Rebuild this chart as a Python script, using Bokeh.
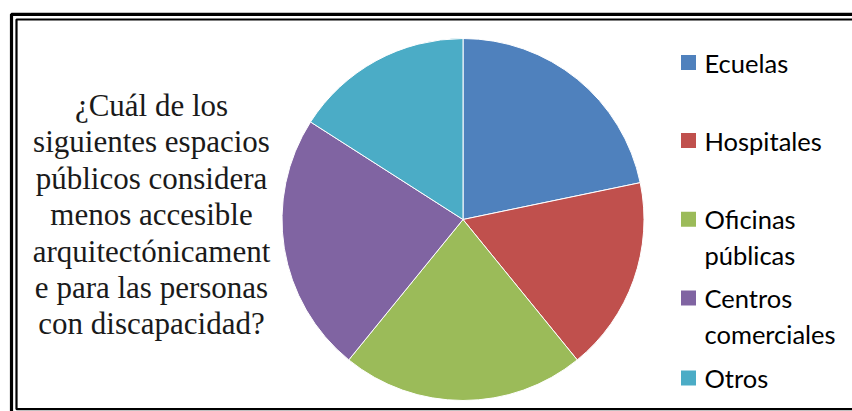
import numpy as np
from bokeh.plotting import figure
from bokeh.models import Range1d, ColumnDataSource
from bokeh.core.properties import value
from bokeh.embed import file_html
from bokeh.resources import INLINE

# ---- data ----
categories = ["Ecuelas", "Hospitales", "Oficinas\npúblicas", "Centros\ncomerciales", "Otros"]
counts = [15, 12, 15, 16, 11]
colors = ["#4F81BD", "#C0504D", "#9BBB59", "#8064A2", "#4BACC6"]
question_lines = ["¿Cuál de los", "siguientes espacios", "públicos considera",
                  "menos accesible", "arquitectónicament", "e para las personas",
                  "con discapacidad?"]

W, H = 852, 411
p = figure(width=W, height=H, output_backend="svg", toolbar_location=None,
           x_range=Range1d(0, W), y_range=Range1d(0, H), min_border=0,
           background_fill_color="white", border_fill_color="white")
p.axis.visible = False
p.grid.visible = False
p.outline_line_color = None

# ---- frame (double border) ----
p.line([11, 11, 870], [-10, H - 13.8, H - 13.8], line_color="black", line_width=3.2)
p.line([870, 16, 16, 870], [H - 19, H - 19, H - 408.7, H - 408.7], line_color="black", line_width=2.2)

# ---- pie ----
vals = np.array(counts, dtype=float)
frac = vals / vals.sum()
cum = np.concatenate([[0], np.cumsum(frac)])
start = np.pi / 2 - cum[:-1] * 2 * np.pi
end = np.pi / 2 - cum[1:] * 2 * np.pi
src = ColumnDataSource(dict(start=start, end=end, color=colors))
cx, cy, r = 462.5, H - 219, 181
p.wedge(x=cx, y=cy, radius=r, start_angle="start", end_angle="end",
        direction="clock", fill_color="color", line_color="white", line_width=1,
        source=src)

# ---- question text ----
qx = 151
base0 = 105
step = 36.4
for i, line in enumerate(question_lines):
    p.text(x=[qx], y=[H - (base0 + i * step)], text=[line],
           text_font=value("Liberation Serif"), text_font_size="31px",
           text_align="center", text_baseline="alphabetic", text_color="#1a1a1a")

# ---- legend ----
sq_x = 688
tx = 704
item_y = [62, 140, 218.7, 297.5, 377.5]
sub_step = 36
for cat, col, yy in zip(categories, colors, item_y):
    p.rect(x=[sq_x], y=[H - yy], width=15, height=15, fill_color=col,
           line_color=None)
    for j, ln in enumerate(cat.split("\n")):
        p.text(x=[tx], y=[H - (yy + j * sub_step)], text=[ln],
               text_font=value("Lato"), text_font_size="25.5px",
               text_align="left", text_baseline="middle", text_color="black")

open("out.html", "w").write(file_html(p, INLINE))
